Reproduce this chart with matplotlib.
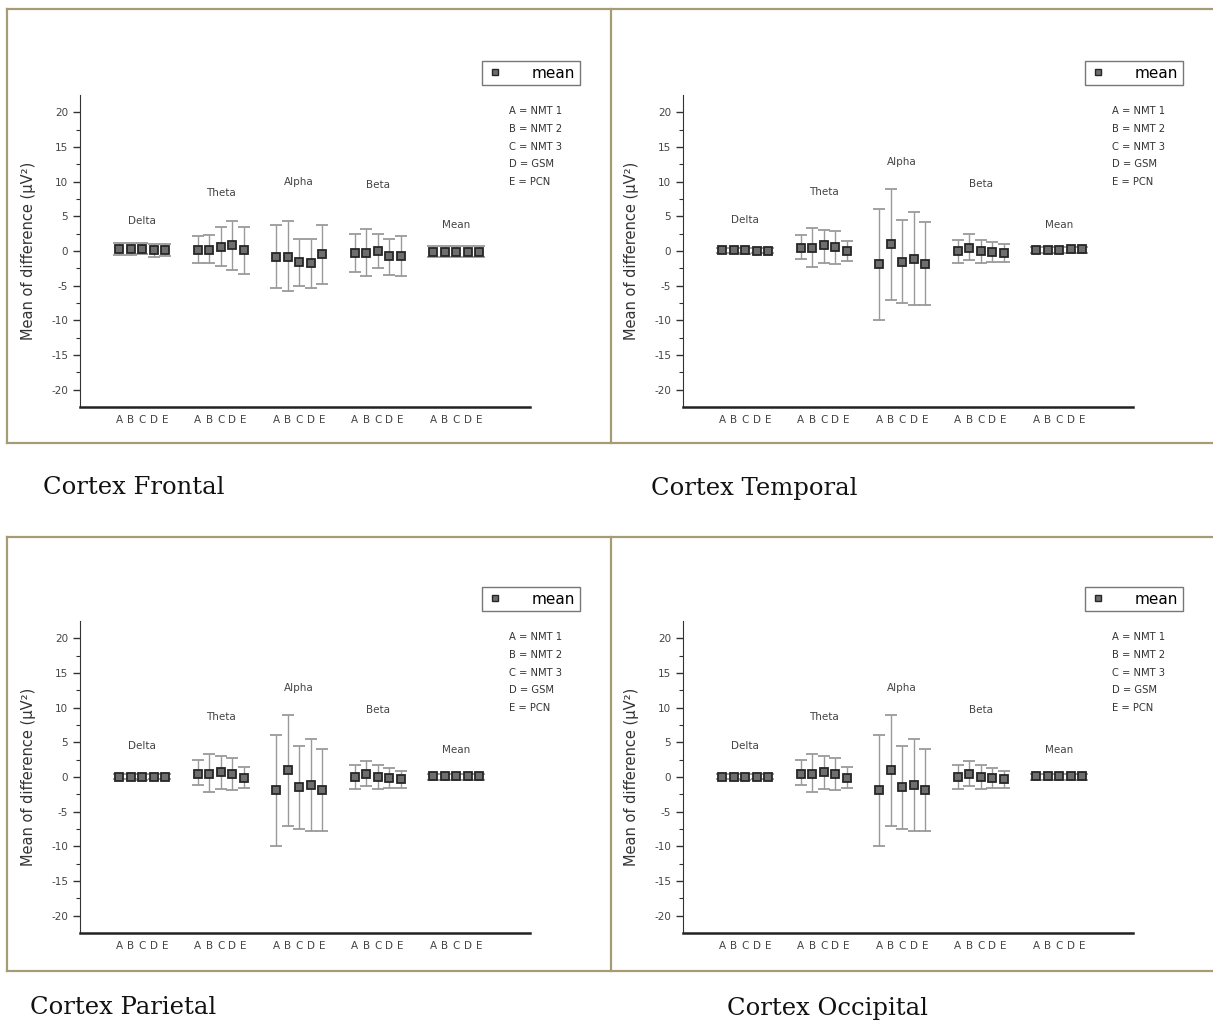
import matplotlib
matplotlib.use("Agg")
import matplotlib.pyplot as plt
from matplotlib.lines import Line2D

plt.rcParams['axes.unicode_minus'] = False

W, H = 1213, 1023

bands = ['Delta', 'Theta', 'Alpha', 'Beta', 'Mean']
methods = ['A', 'B', 'C', 'D', 'E']
method_names = ['A = NMT 1', 'B = NMT 2', 'C = NMT 3', 'D = GSM', 'E = PCN']

# values: mean, upper bar end, lower bar end (µV²)
frontal_mean = [[0.3, 0.3, 0.3, 0.1, 0.2],
                [0.1, 0.1, 0.6, 0.8, 0.1],
                [-0.85, -0.85, -1.55, -1.75, -0.5],
                [-0.25, -0.25, 0.0, -0.7, -0.7],
                [-0.1, -0.1, -0.1, -0.1, -0.1]]
frontal_upper = [[1.1, 1.1, 1.2, 1.0, 1.0],
                 [2.1, 2.3, 3.4, 4.3, 3.4],
                 [3.75, 4.3, 1.8, 1.8, 3.75],
                 [2.4, 3.2, 2.4, 1.8, 2.1],
                 [0.7, 0.7, 0.7, 0.7, 0.7]]
frontal_lower = [[-0.6, -0.6, -0.5, -0.8, -0.7],
                 [-1.8, -1.8, -2.2, -2.7, -3.3],
                 [-5.3, -5.7, -5.0, -5.3, -4.8],
                 [-3.0, -3.6, -2.4, -3.4, -3.6],
                 [-0.8, -0.8, -0.8, -0.8, -0.8]]
frontal_label_y = [4.3, 8.4, 9.9, 9.5, 3.8]

temporal_mean = [[0.1, 0.1, 0.1, 0.0, 0.0],
                 [0.5, 0.5, 0.8, 0.6, 0.0],
                 [-1.9, 1.0, -1.6, -1.1, -1.9],
                 [0.0, 0.5, 0.0, -0.1, -0.3],
                 [0.2, 0.2, 0.2, 0.3, 0.3]]
temporal_upper = [[0.4, 0.4, 0.5, 0.4, 0.4],
                  [2.3, 3.3, 3.1, 2.9, 1.5],
                  [6.1, 9.0, 4.5, 5.6, 4.2],
                  [1.6, 2.4, 1.6, 1.3, 1.0],
                  [0.6, 0.6, 0.6, 0.6, 0.6]]
temporal_lower = [[-0.3, -0.3, -0.4, -0.3, -0.3],
                  [-1.2, -2.3, -1.7, -1.9, -1.5],
                  [-10.0, -7.0, -7.5, -7.8, -7.8],
                  [-1.8, -1.3, -1.7, -1.6, -1.6],
                  [-0.3, -0.3, -0.3, -0.3, -0.3]]
temporal_label_y = [4.4, 8.5, 12.8, 9.7, 3.8]

parietal_mean = [[0.0, 0.0, 0.0, 0.0, 0.0],
                 [0.5, 0.5, 0.7, 0.5, -0.1],
                 [-1.9, 1.0, -1.5, -1.2, -1.9],
                 [0.0, 0.4, 0.0, -0.1, -0.3],
                 [0.1, 0.1, 0.1, 0.2, 0.2]]
parietal_upper = [[0.4, 0.4, 0.5, 0.4, 0.4],
                  [2.4, 3.3, 3.1, 2.8, 1.4],
                  [6.1, 8.9, 4.4, 5.5, 4.1],
                  [1.7, 2.3, 1.7, 1.3, 0.9],
                  [0.5, 0.5, 0.5, 0.5, 0.5]]
parietal_lower = [[-0.3, -0.3, -0.4, -0.3, -0.3],
                  [-1.2, -2.2, -1.7, -1.9, -1.6],
                  [-10.0, -7.0, -7.5, -7.8, -7.8],
                  [-1.7, -1.3, -1.7, -1.6, -1.6],
                  [-0.4, -0.4, -0.4, -0.4, -0.4]]
parietal_label_y = [4.5, 8.6, 12.9, 9.7, 3.9]

occipital_mean = parietal_mean
occipital_upper = parietal_upper
occipital_lower = parietal_lower
occipital_label_y = parietal_label_y

frame_color = '#a59b74'


def fig_box(x0, y0, x1, y1):
    return [x0 / W, 1 - y1 / H, (x1 - x0) / W, (y1 - y0) / H]


def draw_panel(fig, dx, dy, means, upper, lower, label_y):
    ax = fig.add_axes(fig_box(80 + dx, 95 + dy, 530 + dx, 407 + dy))
    step = 0.146
    xs_all = []
    for g in range(len(bands)):
        xs = [g + 1 + (k - 2) * step for k in range(len(methods))]
        xs_all += xs
        m = means[g]
        yerr = [[m[k] - lower[g][k] for k in range(5)],
                [upper[g][k] - m[k] for k in range(5)]]
        line, caps, bars = ax.errorbar(xs, m, yerr=yerr, fmt='s', ms=5.5,
                                       mfc='#6e6e6e', mec='#262626', mew=1.3,
                                       ecolor='#9a9a9a', elinewidth=1.0,
                                       capsize=4, capthick=1.3, zorder=3)
        for c in caps:
            c.set_color('#333333')
        ax.text(g + 1, label_y[g], bands[g], ha='center', va='center',
                fontsize=7.5, color='#444444')
    ax.set_xlim(0.21, 5.94)
    ax.set_ylim(-22.5, 22.5)
    ax.set_xticks(xs_all)
    ax.set_xticklabels(methods * len(bands), fontsize=7.5, color='#444444')
    ax.tick_params(axis='x', length=0, pad=6)
    ax.set_yticks(range(-20, 21, 5))
    ax.set_yticks([v * 2.5 for v in range(-8, 9)], minor=True)
    ax.tick_params(axis='y', which='major', length=5, width=1, direction='out',
                   labelsize=7.5, labelcolor='#444444', color='#333333')
    ax.tick_params(axis='y', which='minor', length=3, width=0.8, color='#333333')
    for s in ['top', 'right']:
        ax.spines[s].set_visible(False)
    ax.spines['left'].set_color('#333333')
    ax.spines['bottom'].set_color('#222222')
    ax.spines['bottom'].set_linewidth(1.8)
    ax.set_ylabel('Mean of difference (\u03bcV\u00b2)', fontsize=10.5,
                  color='#333333')
    ax.yaxis.set_label_coords(-0.098, 0.5)

    handle = Line2D([], [], marker='s', ls='none', ms=5, mfc='#6e6e6e',
                    mec='#262626')
    ax.legend([handle], ['mean'], loc='upper right',
              bbox_to_anchor=((580 + dx) / W, 1 - (61 + dy) / H),
              bbox_transform=fig.transFigure, fontsize=11, frameon=True,
              fancybox=False, edgecolor='#555555', handletextpad=1.8,
              borderpad=0.3, handlelength=1.2, borderaxespad=0)
    for i, t in enumerate(method_names):
        fig.text((509 + dx) / W, 1 - (111 + dy + i * 17.8) / H, t,
                 fontsize=7.2, color='#333333', va='center')
    return ax


fig = plt.figure(figsize=(W / 100, H / 100), dpi=100)

panels = [
    (0, 0, frontal_mean, frontal_upper, frontal_lower, frontal_label_y),
    (603, 0, temporal_mean, temporal_upper, temporal_lower, temporal_label_y),
    (0, 526, parietal_mean, parietal_upper, parietal_lower, parietal_label_y),
    (603, 526, occipital_mean, occipital_upper, occipital_lower, occipital_label_y),
]
for p in panels:
    draw_panel(fig, *p)

# frames around the panels
for top, bottom in [(9, 443), (537, 971)]:
    for y in (top, bottom):
        fig.add_artist(Line2D([7 / W, 1], [1 - y / H, 1 - y / H],
                              color=frame_color, lw=1.6))
    for x in (7, 611):
        fig.add_artist(Line2D([x / W, x / W], [1 - top / H, 1 - bottom / H],
                              color=frame_color, lw=1.6))

captions = [('Cortex Frontal', 43, 488), ('Cortex Temporal', 651, 488),
            ('Cortex Parietal', 30, 1008), ('Cortex Occipital', 727, 1008)]
for text, x, y in captions:
    fig.text(x / W, 1 - y / H, text, fontsize=17.5, family='DejaVu Serif',
             va='center', ha='left', color='#111111')

plt.savefig('out.png', dpi=100)
